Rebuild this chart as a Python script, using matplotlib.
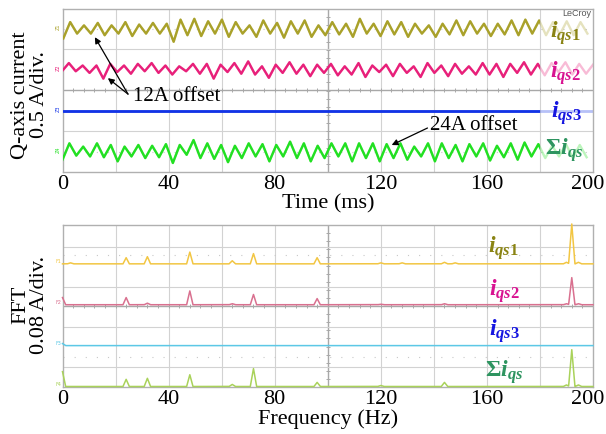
import numpy as np
import matplotlib
matplotlib.use("Agg")
import matplotlib.pyplot as plt
from matplotlib.transforms import Bbox, TransformedBbox, ScaledTranslation

# ---------------- data ----------------
time_ticks = [0, 40, 80, 120, 160, 200]
freq_ticks = [0, 40, 80, 120, 160, 200]

half_period_ms = 2.6          # spacing of the read-off peak/trough vertices
live_end_ms = 180             # scope trace is "live" up to here, faded afterwards

trace_names = ["iqs1", "iqs2", "iqs3", "sum"]
trace_offsets = [1.75, 1.25, 0.75, 0.25]     # A (0.5 A/div screen positions)

iqs1_t0 = 0.3
iqs1_vertices = [-0.12, 0.08, -0.06, 0.04, -0.06, 0.07, -0.08, 0.04, -0.06, 0.08,
                 -0.09, 0.05, -0.06, 0.07, -0.06, 0.06, -0.16, 0.11, -0.08, 0.12,
                 -0.09, 0.09, -0.06, 0.11, -0.10, 0.08, -0.06, 0.04, -0.10, 0.10,
                 -0.06, 0.07, -0.11, 0.09, -0.06, 0.10, -0.10, 0.04, -0.08, 0.08,
                 -0.07, 0.06, -0.10, 0.12, -0.06, 0.06, -0.09, 0.09, -0.07, 0.08,
                 -0.10, 0.06, -0.06, 0.04, -0.10, 0.06, -0.07, 0.10, -0.08, 0.09,
                 -0.06, 0.06, -0.09, 0.06, -0.07, 0.10, -0.08, 0.11, -0.06, 0.10,
                 -0.08, 0.08, -0.07, 0.09, -0.08, 0.08, -0.06]

iqs2_t0 = -0.2
iqs2_vertices = [-0.02, 0.08, -0.02, 0.05, -0.04, 0.05, -0.11, 0.07, -0.03, 0.05,
                 -0.05, 0.07, -0.02, 0.08, -0.04, 0.05, -0.06, 0.04, -0.02, 0.07,
                 -0.05, 0.07, -0.11, 0.06, -0.03, 0.08, -0.05, 0.10, -0.06, 0.04,
                 -0.10, 0.06, -0.04, 0.09, -0.05, 0.06, -0.08, 0.06, -0.04, 0.07,
                 -0.07, 0.04, -0.06, 0.08, -0.09, 0.05, -0.03, 0.06, -0.08, 0.07,
                 -0.04, 0.04, -0.09, 0.08, -0.04, 0.05, -0.08, 0.07, -0.05, 0.04,
                 -0.06, 0.08, -0.06, 0.07, -0.09, 0.07, -0.04, 0.09, -0.06, 0.07,
                 -0.07, 0.08, -0.03, 0.09, -0.06, 0.07, -0.05, 0.06]

iqs3_level = 0.0

sum_t0 = 0.0
sum_vertices = [-0.10, 0.10, -0.05, 0.06, -0.06, 0.10, -0.07, 0.08, -0.12, 0.06,
                -0.06, 0.08, -0.08, 0.07, -0.07, 0.09, -0.14, 0.08, -0.04, 0.14,
                -0.08, 0.10, -0.09, 0.08, -0.13, 0.07, -0.08, 0.10, -0.06, 0.09,
                -0.12, 0.08, -0.06, 0.12, -0.08, 0.10, -0.12, 0.07, -0.08, 0.10,
                -0.06, 0.10, -0.12, 0.10, -0.08, 0.10, -0.12, 0.09, -0.08, 0.10,
                -0.10, 0.06, -0.06, 0.10, -0.12, 0.10, -0.08, 0.08, -0.12, 0.09,
                -0.06, 0.10, -0.11, 0.07, -0.07, 0.10, -0.10, 0.11, -0.06, 0.09,
                -0.08, 0.07, -0.06, 0.09, -0.08, 0.08, -0.07]

fft_offsets = [0.24, 0.16, 0.08, 0.0]        # A (0.08 A/div screen positions)
fft1_freqs = [3, 24, 32, 48, 64, 72, 96, 120, 128, 144, 148, 190, 192, 194.5]
fft1_amps = [0.002, 0.012, 0.014, 0.023, 0.006, 0.020, 0.012, 0.002, 0.002, 0.003, 0.002, 0.003, 0.078, 0.003]
fft2_freqs = [0, 24, 32, 48, 64, 72, 96, 120, 144, 190, 192, 194.5]
fft2_amps = [0.014, 0.014, 0.003, 0.027, 0.002, 0.020, 0.012, 0.001, 0.002, 0.002, 0.053, 0.002]
fft3_freqs = [0]
fft3_amps = [0.004]
fft4_freqs = [0, 24, 32, 48, 64, 72, 96, 120, 144, 190, 192, 194.5]
fft4_amps = [0.029, 0.014, 0.016, 0.023, 0.004, 0.035, 0.008, 0.002, 0.008, 0.003, 0.072, 0.003]

# ---------------- style ----------------
plt.rcParams["font.family"] = ["Liberation Serif", "DejaVu Serif"]
plt.rcParams["mathtext.fontset"] = "custom"
plt.rcParams["mathtext.it"] = "Liberation Serif:italic:bold"
plt.rcParams["mathtext.rm"] = "Liberation Serif:bold"
plt.rcParams["mathtext.bf"] = "Liberation Serif:bold"

W, H = 606, 434
fig = plt.figure(figsize=(W / 100, H / 100), dpi=100)

def px_axes(x0, y0, x1, y1):
    return fig.add_axes([x0 / W, 1 - y1 / H, (x1 - x0) / W, (y1 - y0) / H])

ax1 = px_axes(62.5, 9, 593, 172)
ax2 = px_axes(62.5, 225, 593, 387)

trace_colors = ["#a9a12a", "#e8207a", "#1233e6", "#22e022"]
label_colors = ["#8a8414", "#d81391", "#1616e0", "#2e9460"]
fft_colors = ["#f2c643", "#d9708f", "#5cc8e6", "#a9d25a"]
grid_c = "#d2d2d2"
center_c = "#a8a8a8"
frame_c = "#b0b0b0"

def scope_grid(ax, xlim, ylim, hgrid, hcenter, hdots):
    ax.set_xlim(*xlim)
    ax.set_ylim(*ylim)
    for x in range(20, 200, 20):
        ax.axvline(x, color=center_c if x == 100 else grid_c, lw=1.0 if x == 100 else 0.8, zorder=0)
    for y in hgrid:
        ax.axhline(y, color=grid_c, lw=0.8, zorder=0)
    for y in hdots:
        ax.axhline(y, color="#c8c8c8", lw=0.8, ls=(0, (1, 9)), zorder=0)
    ax.axhline(hcenter, color=center_c, lw=1.0, zorder=0)
    xt = np.arange(0, 200.01, 4)
    ax.plot(xt, np.full_like(xt, hcenter), ls="none", marker="|", ms=3, mew=0.7, color=center_c, zorder=0)
    yt = np.linspace(ylim[0], ylim[1], 21)
    ax.plot(np.full_like(yt, 100.0), yt, ls="none", marker="_", ms=3, mew=0.7, color=center_c, zorder=0)
    for s in ax.spines.values():
        s.set_color(frame_c)
        s.set_linewidth(1.0)
    ax.tick_params(length=0, labelsize=16, pad=2, colors="black")
    ax.set_yticks([])

def nudge_last_label(ax):
    lab = ax.get_xticklabels()[-1]
    lab.set_transform(lab.get_transform() + ScaledTranslation(-5 / 100, 0, fig.dpi_scale_trans))

# ---------------- top panel: time traces ----------------
scope_grid(ax1, (0, 200), (0, 1.99), [0.5, 1.5], 1.0, [1.75, 0.25])
ax1.set_xticks(time_ticks)
ax1.set_xticklabels([str(v) for v in time_ticks])
nudge_last_label(ax1)

live_clip = TransformedBbox(Bbox([[0, -1], [live_end_ms, 3]]), ax1.transData)

def draw_trace(t, y, color, lw):
    ax1.plot(t, y, color=color, lw=lw, alpha=0.3, zorder=2, solid_joinstyle="round")
    ln, = ax1.plot(t, y, color=color, lw=lw, zorder=3, solid_joinstyle="round")
    ln.set_clip_box(live_clip)

for t0, verts, off, col in [(iqs1_t0, iqs1_vertices, trace_offsets[0], trace_colors[0]),
                            (iqs2_t0, iqs2_vertices, trace_offsets[1], trace_colors[1]),
                            (sum_t0, sum_vertices, trace_offsets[3], trace_colors[3])]:
    v = np.asarray(verts)
    t = t0 + half_period_ms * np.arange(len(v))
    draw_trace(t, off + v, col, 1.7)

draw_trace([0, 200], [trace_offsets[2] + iqs3_level] * 2, trace_colors[2], 2.0)

# channel markers at left edge
for i, (off, col) in enumerate(zip(trace_offsets, trace_colors)):
    ax1.text(-0.8, off + 0.02, "Z%d" % (i + 1), color=col, fontsize=3.5, rotation=90,
             ha="right", va="center", family="DejaVu Sans", clip_on=False)

# trace labels
top_labels = [r"$\mathit{i}_{\mathit{qs1}}$", r"$\mathit{i}_{\mathit{qs2}}$",
              r"$\mathit{i}_{\mathit{qs3}}$", r"$\Sigma\mathit{i}_{\mathit{qs}}$"]
top_label_pos = [(189.6, 1.695), (189.6, 1.213), (190.0, 0.713), (189.1, 0.268)]
for lab, (x, y), col in zip(top_labels, top_label_pos, label_colors):
    ax1.text(x, y, lab, color=col, fontsize=17, ha="center", va="center", zorder=5)

ax1.text(194.0, 1.93, "LeCroy", fontsize=6.5, family="Liberation Sans", color="#555555",
         ha="center", va="center", zorder=5)

# annotations
arrow_kw = dict(arrowstyle="-|>", color="black", lw=0.9, mutation_scale=9, shrinkA=0, shrinkB=0)
ax1.annotate("", xy=(12.2, 1.646), xytext=(24.7, 0.951), arrowprops=arrow_kw)
ax1.annotate("", xy=(17.1, 1.146), xytext=(24.7, 0.951), arrowprops=arrow_kw)
ax1.text(26.6, 0.921, "12A offset", fontsize=15, ha="left", va="center")
ax1.annotate("", xy=(124.1, 0.329), xytext=(137.6, 0.537), arrowprops=arrow_kw)
ax1.text(138.4, 0.567, "24A offset", fontsize=15, ha="left", va="center")

fig.text(21 / W, 1 - 95 / H, "Q-axis current", rotation=90, fontsize=16, ha="center", va="center")
fig.text(39.5 / W, 1 - 95 / H, "0.5 A/div.", rotation=90, fontsize=16, ha="center", va="center")
fig.text(327.75 / W, 1 - 204 / H, "Time (ms)", fontsize=16, ha="center", va="center")

# ---------------- bottom panel: FFT ----------------
scope_grid(ax2, (0, 200), (-0.001, 0.316), [0.039, 0.117, 0.195, 0.273], 0.158, [0.258, 0.058])
ax2.set_xticks(freq_ticks)
ax2.set_xticklabels([str(v) for v in freq_ticks])
nudge_last_label(ax2)

f_axis = np.linspace(0, 200, 4001)
peak_halfwidth = 1.2

def spectrum(freqs, amps):
    y = np.zeros_like(f_axis)
    for f, a in zip(freqs, amps):
        y = np.maximum(y, a * np.clip(1 - np.abs(f_axis - f) / peak_halfwidth, 0, None))
    return y

for freqs, amps, off, col in [(fft1_freqs, fft1_amps, fft_offsets[0], fft_colors[0]),
                              (fft2_freqs, fft2_amps, fft_offsets[1], fft_colors[1]),
                              (fft3_freqs, fft3_amps, fft_offsets[2], fft_colors[2]),
                              (fft4_freqs, fft4_amps, fft_offsets[3], fft_colors[3])]:
    ax2.plot(f_axis, off + spectrum(freqs, amps), color=col, lw=1.1, zorder=3, clip_on=False)

for i, (off, col) in enumerate(zip(fft_offsets, fft_colors)):
    ax2.text(-0.5, off + 0.004, "F%d" % (i + 1), color=col, fontsize=3.5,
             ha="right", va="center", family="DejaVu Sans", clip_on=False)

bot_labels = [r"$\mathit{i}_{\mathit{qs1}}$", r"$\mathit{i}_{\mathit{qs2}}$",
              r"$\mathit{i}_{\mathit{qs3}}$", r"$\Sigma\mathit{i}_{\mathit{qs}}$"]
bot_label_pos = [(166.4, 0.270), (166.8, 0.186), (166.8, 0.108), (166.3, 0.028)]
for lab, (x, y), col in zip(bot_labels, bot_label_pos, label_colors):
    ax2.text(x, y, lab, color=col, fontsize=17, ha="center", va="center", zorder=5)

fig.text(21 / W, 1 - 305 / H, "FFT", rotation=90, fontsize=16, ha="center", va="center")
fig.text(39.5 / W, 1 - 305 / H, "0.08 A/div.", rotation=90, fontsize=16, ha="center", va="center")
fig.text(327.75 / W, 1 - 419 / H, "Frequency (Hz)", fontsize=16, ha="center", va="center")

fig.savefig("out.png", dpi=100)
